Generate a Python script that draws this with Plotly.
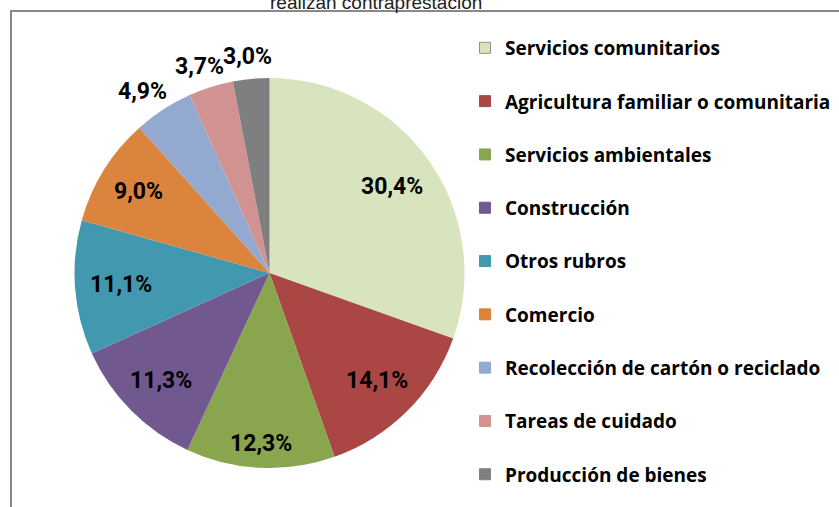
import math
import plotly.graph_objects as go

# rubros de contraprestación (%)
labels = [
    'Servicios comunitarios',
    'Agricultura familiar o comunitaria',
    'Servicios ambientales',
    'Construcción',
    'Otros rubros',
    'Comercio',
    'Recolección de cartón o reciclado',
    'Tareas de cuidado',
    'Producción de bienes',
]
values = [30.4, 14.1, 12.3, 11.3, 11.1, 9.0, 4.9, 3.7, 3.0]
colors = ['#D7E4BD', '#AA4643', '#89A54E', '#71588F', '#4198AF',
          '#DB843D', '#93A9CF', '#D19392', '#7F7F7F']
outside = [False] * 6 + [True] * 3

W, H = 839, 507
CX, CY, R = 269.5, 273, 195  # centro y radio de la torta en px
FONT = 'Roboto'
LBL_SIZE = 23

fig = go.Figure()
fig.add_trace(go.Pie(
    labels=labels,
    values=values,
    sort=False,
    direction='clockwise',
    rotation=0,
    marker=dict(colors=colors, line=dict(width=0)),
    textinfo='none',
    hoverinfo='label+percent',
    domain=dict(x=[(CX - R) / W, (CX + R) / W], y=[(H - CY - R) / H, (H - CY + R) / H]),
    showlegend=False,
))

# etiquetas de porcentaje, ubicadas como en Excel (caja de texto dentro/fuera del borde)
total = sum(values)
acc = 0
for v, out in zip(values, outside):
    ang = 2 * math.pi * (acc + v / 2) / total
    acc += v
    txt = f'{v:.1f}'.replace('.', ',') + '%'
    hw, hh = 0.55 * LBL_SIZE * len(txt) / 2, 9
    s, c = math.sin(ang), math.cos(ang)
    if out:
        rr = R + 13
        dx, dy = rr * s + hw * s, rr * c + hh * c
    else:
        rr = R - 14 - (hw * abs(s) + hh * abs(c))
        dx, dy = rr * s, rr * c
    fig.add_annotation(
        text=txt, xref='paper', yref='paper',
        x=(CX + dx) / W, y=(H - CY + dy) / H,
        xanchor='center', yanchor='middle', showarrow=False,
        font=dict(family=FONT, size=LBL_SIZE, color='black', weight='bold'),
    )

# leyenda: una traza vacía por rubro para poder espaciar las entradas
for lab, col in zip(labels, colors):
    fig.add_trace(go.Scatter(
        x=[None], y=[None], mode='markers', name=lab, legendgroup=lab,
        marker=dict(symbol='square', size=11, color=col,
                    line=dict(color='#8A9A70' if col == '#D7E4BD' else col, width=1)),
    ))

fig.add_annotation(
    text='realizan contraprestación', xref='paper', yref='paper',
    x=376 / W, y=1, xanchor='center', yanchor='bottom', yshift=-15, showarrow=False,
    font=dict(family='Liberation Sans', size=19, color='#222222'),
)
fig.add_shape(
    type='rect', xref='paper', yref='paper',
    x0=11 / W, x1=1.05, y0=-0.1, y1=1 - 11 / H,
    line=dict(color='#888888', width=2), layer='below',
)

fig.update_layout(
    width=W, height=H,
    margin=dict(l=0, r=0, t=0, b=0),
    paper_bgcolor='white',
    plot_bgcolor='white',
    xaxis=dict(visible=False),
    yaxis=dict(visible=False),
    legend=dict(
        x=465 / W, y=1 - 29 / H, xanchor='left', yanchor='top',
        tracegroupgap=25.6, itemclick=False,
        font=dict(family='Open Sans', size=19, color='black', weight='bold'),
        bgcolor='rgba(0,0,0,0)',
    ),
)

fig.write_html('out.html', config={'displayModeBar': False},
               post_script="document.body.style.margin='0';")
